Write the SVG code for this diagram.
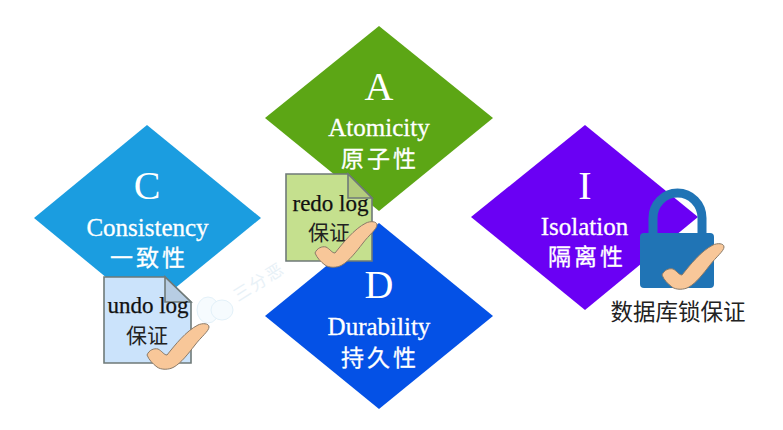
<svg xmlns="http://www.w3.org/2000/svg" width="783" height="430" viewBox="0 0 783 430">
<defs>
<path id="check" d="M0 0C2 -5 7 -7 11 -6C15 -4 17 0 20 0C28 -10 39 -24 51 -30C55 -32 62 -32 62 -28C62 -24 54 -18 48 -10C41 -1 34 8 27 12C22 15 14 15 10 12C6 9 2 5 0 0Z" fill="#f8c799" stroke="#8a7a68" stroke-width="1" stroke-linejoin="round"/>
</defs>
<style>
.big{font-family:"Liberation Serif","Noto Sans CJK SC",serif;font-size:40px;fill:#fff;text-anchor:middle}
.en{font-family:"Liberation Serif","Noto Sans CJK SC",serif;font-size:25px;fill:#fff;stroke:#fff;stroke-width:.3;text-anchor:middle}
.zh{font-family:"Noto Sans CJK SC",sans-serif;font-size:23px;fill:#fff;stroke:#fff;stroke-width:.3;text-anchor:middle;letter-spacing:3px}
.doc{font-family:"Liberation Serif","Noto Sans CJK SC",serif;font-size:23px;fill:#111;stroke:#111;stroke-width:.25;text-anchor:middle}
.dz{font-family:"Noto Sans CJK SC",sans-serif;font-size:21px;fill:#222;text-anchor:middle}
.page{stroke:#6f7a78;stroke-width:1.6}
</style>
<rect width="783" height="430" fill="#fff"/>
<g id="watermark">
<ellipse cx="208" cy="310" rx="11" ry="13" fill="#f6fbfe" stroke="#e3f1f9"/>
<ellipse cx="222" cy="310" rx="11" ry="10" fill="#f6fbfe" stroke="#e3f1f9"/>
<text x="0" y="0" transform="translate(238 302) rotate(-32)" font-family="'Noto Sans CJK SC',sans-serif" font-size="17" letter-spacing="2" fill="#e8f1f7">三分恶</text>
</g>
<g id="node-c">
<polygon points="147,125 261,218 147,311 34,218" fill="#1b9de0"/>
<text class="big" x="147" y="199">C</text>
<text class="en" x="147.500" y="236">Consistency</text>
<text class="zh" x="149" y="266">一致性</text>
</g>
<g id="node-a">
<polygon points="379,26 493,118 379,211 265,118" fill="#5ca615"/>
<text class="big" x="379" y="100">A</text>
<text class="en" x="379" y="136">Atomicity</text>
<text class="zh" x="380" y="167">原子性</text>
</g>
<g id="node-d">
<polygon points="379,223 493,316 379,409 265,316" fill="#0451e6"/>
<text class="big" x="379" y="298">D</text>
<text class="en" x="379" y="335">Durability</text>
<text class="zh" x="380" y="366">持久性</text>
</g>
<g id="node-i">
<polygon points="585,125 698,217 585,310 471,217" fill="#6a00f4"/>
<text class="big" x="585" y="199">I</text>
<text class="en" x="584.500" y="235">Isolation</text>
<text class="zh" x="587" y="265">隔离性</text>
</g>
<g id="doc-redo">
<path class="page" d="M286 174H348L372 198V261H286Z" fill="#c5e08e"/>
<path class="page" d="M348 174V198H372Z" fill="#b4cc7d"/>
<text class="doc" x="330.500" y="211">redo log</text>
<text class="dz" x="329" y="240">保证</text>
<use href="#check" x="315" y="253"/>
</g>
<g id="doc-undo">
<path class="page" d="M104 277H165L191 302V363H104Z" fill="#cbe3fb"/>
<path class="page" d="M165 277V302H191Z" fill="#b7cde3"/>
<text class="doc" x="148" y="313">undo log</text>
<text class="dz" x="147" y="343">保证</text>
<use href="#check" x="147" y="355"/>
</g>
<g id="lock">
<path d="M653 235V218A24.500 25 0 0 1 702 218V235" fill="none" stroke="#2074b5" stroke-width="9"/>
<rect x="640" y="233" width="74" height="55" rx="4" fill="#2074b5"/>
<use href="#check" x="662" y="275"/>
<text x="678" y="320" font-family="'Noto Sans CJK SC',sans-serif" font-size="22.500" fill="#222" text-anchor="middle">数据库锁保证</text>
</g>
<g id="connectors"/>
</svg>
